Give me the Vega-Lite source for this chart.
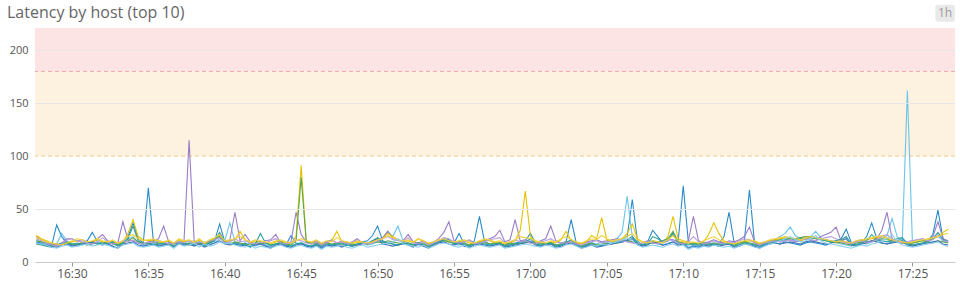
{
"$schema":"https://vega.github.io/schema/vega-lite/v6.json",
"autosize":"none","width":920,"height":234,
"padding":{"left":35,"top":28,"right":5,"bottom":27},
"background":"white",
"title":{"text":"Latency by host (top 10)","anchor":"start","frame":"group","dx":-28,"offset":8,"dy":24,"fontSize":16,"font":"Open Sans","fontWeight":400,"color":"#666"},
"config":{"view":{"stroke":null},"font":"Open Sans"},
"datasets":{
"bands":[{"level":"critical","from":180,"to":221},{"level":"warning","from":100,"to":180}],
"badge":[{"label":"1h"}],
"hosts":[
{"t":"16:27:40","a":19,"b":21,"c":24,"d":25,"e":20,"f":18,"g":17,"h":22,"i":23,"j":18},
{"t":"16:28:00","a":18,"b":19,"c":21,"d":22,"e":19,"f":17,"g":16,"h":20,"i":21,"j":17},
{"t":"16:28:20","a":17,"b":16,"c":19,"d":20,"e":18,"f":16,"g":15,"h":18,"i":19,"j":16},
{"t":"16:28:40","a":15,"b":14,"c":17,"d":18,"e":16,"f":15,"g":14,"h":16,"i":18,"j":14},
{"t":"16:29:00","a":35,"b":17,"c":16,"d":17,"e":15,"f":14,"g":16,"h":15,"i":17,"j":13},
{"t":"16:29:20","a":24,"b":27,"c":18,"d":16,"e":17,"f":16,"g":18,"h":17,"i":16,"j":15},
{"t":"16:29:40","a":18,"b":20,"c":22,"d":18,"e":18,"f":17,"g":19,"h":21,"i":18,"j":16},
{"t":"16:30:00","a":16,"b":17,"c":22,"d":19,"e":17,"f":15,"g":17,"h":22,"i":20,"j":14},
{"t":"16:30:20","a":17,"b":15,"c":20,"d":20,"e":16,"f":16,"g":18,"h":20,"i":22,"j":15},
{"t":"16:30:40","a":18,"b":16,"c":21,"d":18,"e":18,"f":17,"g":17,"h":19,"i":21,"j":16},
{"t":"16:31:00","a":20,"b":17,"c":19,"d":17,"e":19,"f":18,"g":16,"h":18,"i":19,"j":17},
{"t":"16:31:20","a":28,"b":18,"c":18,"d":19,"e":18,"f":19,"g":17,"h":17,"i":20,"j":15},
{"t":"16:31:40","a":19,"b":19,"c":22,"d":21,"e":17,"f":17,"g":18,"h":19,"i":22,"j":16},
{"t":"16:32:00","a":18,"b":17,"c":26,"d":19,"e":18,"f":16,"g":17,"h":23,"i":20,"j":17},
{"t":"16:32:20","a":17,"b":16,"c":20,"d":18,"e":19,"f":17,"g":18,"h":19,"i":19,"j":16},
{"t":"16:32:40","a":19,"b":18,"c":17,"d":20,"e":17,"f":15,"g":19,"h":17,"i":21,"j":14},
{"t":"16:33:00","a":16,"b":15,"c":18,"d":17,"e":16,"f":13,"g":15,"h":18,"i":18,"j":13},
{"t":"16:33:20","a":20,"b":19,"c":38,"d":19,"e":18,"f":17,"g":18,"h":20,"i":20,"j":16},
{"t":"16:33:40","a":24,"b":22,"c":21,"d":27,"e":20,"f":18,"g":22,"h":19,"i":24,"j":17},
{"t":"16:34:00","a":37,"b":24,"c":20,"d":40,"e":23,"f":19,"g":34,"h":21,"i":26,"j":18},
{"t":"16:34:20","a":22,"b":18,"c":18,"d":24,"e":19,"f":16,"g":20,"h":18,"i":22,"j":15},
{"t":"16:34:40","a":18,"b":16,"c":17,"d":21,"e":18,"f":15,"g":17,"h":17,"i":20,"j":14},
{"t":"16:35:00","a":70,"b":17,"c":19,"d":20,"e":17,"f":16,"g":18,"h":19,"i":21,"j":15},
{"t":"16:35:20","a":19,"b":18,"c":20,"d":21,"e":19,"f":17,"g":16,"h":18,"i":22,"j":16},
{"t":"16:35:40","a":17,"b":16,"c":22,"d":19,"e":18,"f":15,"g":17,"h":20,"i":20,"j":14},
{"t":"16:36:00","a":16,"b":17,"c":34,"d":18,"e":17,"f":16,"g":18,"h":19,"i":19,"j":15},
{"t":"16:36:20","a":18,"b":18,"c":19,"d":20,"e":16,"f":17,"g":17,"h":17,"i":21,"j":16},
{"t":"16:36:40","a":17,"b":15,"c":17,"d":17,"e":18,"f":14,"g":15,"h":18,"i":18,"j":13},
{"t":"16:37:00","a":19,"b":19,"c":18,"d":21,"e":19,"f":18,"g":17,"h":19,"i":22,"j":17},
{"t":"16:37:20","a":18,"b":17,"c":20,"d":19,"e":17,"f":16,"g":18,"h":18,"i":20,"j":15},
{"t":"16:37:40","a":17,"b":18,"c":115,"d":20,"e":18,"f":17,"g":16,"h":20,"i":21,"j":16},
{"t":"16:38:00","a":16,"b":20,"c":19,"d":18,"e":17,"f":15,"g":17,"h":17,"i":19,"j":18},
{"t":"16:38:20","a":19,"b":16,"c":17,"d":21,"e":18,"f":17,"g":19,"h":19,"i":22,"j":14},
{"t":"16:38:40","a":15,"b":19,"c":18,"d":17,"e":16,"f":14,"g":15,"h":18,"i":18,"j":17},
{"t":"16:39:00","a":18,"b":17,"c":19,"d":20,"e":19,"f":16,"g":18,"h":20,"i":21,"j":15},
{"t":"16:39:20","a":20,"b":18,"c":22,"d":22,"e":21,"f":18,"g":20,"h":21,"i":23,"j":16},
{"t":"16:39:40","a":36,"b":22,"c":26,"d":25,"e":24,"f":20,"g":28,"h":23,"i":26,"j":19},
{"t":"16:40:00","a":19,"b":20,"c":18,"d":19,"e":18,"f":17,"g":19,"h":18,"i":20,"j":17},
{"t":"16:40:20","a":18,"b":37,"c":21,"d":20,"e":17,"f":16,"g":17,"h":19,"i":21,"j":18},
{"t":"16:40:40","a":17,"b":19,"c":47,"d":21,"e":19,"f":17,"g":18,"h":22,"i":22,"j":16},
{"t":"16:41:00","a":16,"b":17,"c":20,"d":29,"e":18,"f":15,"g":17,"h":19,"i":24,"j":15},
{"t":"16:41:20","a":18,"b":16,"c":26,"d":21,"e":17,"f":16,"g":16,"h":20,"i":21,"j":14},
{"t":"16:41:40","a":15,"b":18,"c":19,"d":18,"e":16,"f":14,"g":15,"h":18,"i":19,"j":16},
{"t":"16:42:00","a":17,"b":15,"c":17,"d":20,"e":18,"f":16,"g":17,"h":17,"i":21,"j":13},
{"t":"16:42:20","a":19,"b":17,"c":18,"d":19,"e":17,"f":17,"g":27,"h":19,"i":20,"j":15},
{"t":"16:42:40","a":16,"b":16,"c":20,"d":18,"e":18,"f":15,"g":18,"h":18,"i":19,"j":14},
{"t":"16:43:00","a":14,"b":15,"c":21,"d":17,"e":16,"f":13,"g":16,"h":20,"i":18,"j":13},
{"t":"16:43:20","a":17,"b":17,"c":26,"d":19,"e":17,"f":16,"g":17,"h":22,"i":20,"j":15},
{"t":"16:43:40","a":18,"b":18,"c":18,"d":20,"e":19,"f":17,"g":18,"h":18,"i":21,"j":16},
{"t":"16:44:00","a":16,"b":16,"c":17,"d":18,"e":17,"f":15,"g":16,"h":17,"i":19,"j":14},
{"t":"16:44:20","a":25,"b":14,"c":19,"d":17,"e":16,"f":14,"g":15,"h":18,"i":18,"j":13},
{"t":"16:44:40","a":18,"b":17,"c":47,"d":24,"e":20,"f":16,"g":17,"h":21,"i":20,"j":15},
{"t":"16:45:00","a":17,"b":18,"c":26,"d":91,"e":80,"f":17,"g":18,"h":20,"i":22,"j":16},
{"t":"16:45:20","a":16,"b":16,"c":19,"d":20,"e":19,"f":15,"g":16,"h":18,"i":20,"j":14},
{"t":"16:45:40","a":15,"b":14,"c":18,"d":18,"e":17,"f":14,"g":15,"h":17,"i":19,"j":13},
{"t":"16:46:00","a":17,"b":16,"c":20,"d":19,"e":18,"f":16,"g":17,"h":19,"i":21,"j":15},
{"t":"16:46:20","a":14,"b":13,"c":17,"d":17,"e":16,"f":13,"g":15,"h":16,"i":18,"j":12},
{"t":"16:46:40","a":18,"b":17,"c":19,"d":18,"e":18,"f":16,"g":17,"h":18,"i":20,"j":15},
{"t":"16:47:00","a":16,"b":15,"c":21,"d":20,"e":17,"f":15,"g":16,"h":20,"i":19,"j":14},
{"t":"16:47:20","a":17,"b":16,"c":18,"d":29,"e":18,"f":16,"g":17,"h":18,"i":23,"j":15},
{"t":"16:47:40","a":15,"b":17,"c":20,"d":19,"e":16,"f":14,"g":18,"h":19,"i":20,"j":16},
{"t":"16:48:00","a":18,"b":16,"c":17,"d":18,"e":18,"f":16,"g":16,"h":17,"i":19,"j":14},
{"t":"16:48:20","a":16,"b":15,"c":19,"d":17,"e":17,"f":15,"g":15,"h":18,"i":18,"j":13},
{"t":"16:48:40","a":17,"b":17,"c":22,"d":19,"e":16,"f":16,"g":17,"h":21,"i":20,"j":15},
{"t":"16:49:00","a":19,"b":18,"c":18,"d":18,"e":18,"f":17,"g":18,"h":18,"i":19,"j":16},
{"t":"16:49:20","a":20,"b":16,"c":17,"d":17,"e":17,"f":18,"g":17,"h":17,"i":18,"j":14},
{"t":"16:49:40","a":25,"b":17,"c":19,"d":18,"e":18,"f":20,"g":20,"h":18,"i":19,"j":15},
{"t":"16:50:00","a":34,"b":19,"c":21,"d":20,"e":19,"f":22,"g":23,"h":20,"i":21,"j":16},
{"t":"16:50:20","a":20,"b":22,"c":23,"d":22,"e":18,"f":17,"g":19,"h":22,"i":22,"j":17},
{"t":"16:50:40","a":18,"b":29,"c":29,"d":27,"e":20,"f":16,"g":18,"h":24,"i":25,"j":18},
{"t":"16:51:00","a":17,"b":24,"c":22,"d":24,"e":19,"f":15,"g":17,"h":21,"i":23,"j":19},
{"t":"16:51:20","a":16,"b":34,"c":21,"d":21,"e":18,"f":16,"g":16,"h":20,"i":21,"j":22},
{"t":"16:51:40","a":18,"b":20,"c":20,"d":19,"e":17,"f":17,"g":18,"h":19,"i":20,"j":17},
{"t":"16:52:00","a":17,"b":18,"c":26,"d":20,"e":18,"f":16,"g":17,"h":23,"i":21,"j":16},
{"t":"16:52:20","a":15,"b":17,"c":19,"d":18,"e":16,"f":14,"g":16,"h":18,"i":19,"j":15},
{"t":"16:52:40","a":18,"b":16,"c":18,"d":22,"e":18,"f":17,"g":18,"h":17,"i":22,"j":14},
{"t":"16:53:00","a":16,"b":18,"c":20,"d":19,"e":17,"f":15,"g":16,"h":19,"i":20,"j":16},
{"t":"16:53:20","a":14,"b":15,"c":17,"d":17,"e":15,"f":13,"g":14,"h":16,"i":18,"j":13},
{"t":"16:53:40","a":17,"b":17,"c":19,"d":18,"e":18,"f":16,"g":17,"h":18,"i":19,"j":15},
{"t":"16:54:00","a":19,"b":19,"c":22,"d":20,"e":19,"f":18,"g":19,"h":20,"i":21,"j":17},
{"t":"16:54:20","a":22,"b":21,"c":28,"d":21,"e":20,"f":19,"g":21,"h":23,"i":22,"j":18},
{"t":"16:54:40","a":21,"b":20,"c":38,"d":19,"e":19,"f":17,"g":20,"h":22,"i":20,"j":17},
{"t":"16:55:00","a":18,"b":17,"c":20,"d":18,"e":18,"f":16,"g":17,"h":19,"i":19,"j":15},
{"t":"16:55:20","a":27,"b":16,"c":18,"d":19,"e":17,"f":18,"g":19,"h":18,"i":20,"j":14},
{"t":"16:55:40","a":17,"b":18,"c":19,"d":20,"e":18,"f":15,"g":16,"h":19,"i":21,"j":16},
{"t":"16:56:00","a":16,"b":15,"c":21,"d":18,"e":16,"f":14,"g":15,"h":20,"i":19,"j":13},
{"t":"16:56:20","a":20,"b":17,"c":18,"d":17,"e":17,"f":16,"g":17,"h":17,"i":18,"j":15},
{"t":"16:56:40","a":43,"b":19,"c":19,"d":19,"e":18,"f":17,"g":18,"h":18,"i":20,"j":16},
{"t":"16:57:00","a":19,"b":18,"c":20,"d":21,"e":19,"f":16,"g":17,"h":19,"i":22,"j":15},
{"t":"16:57:20","a":17,"b":16,"c":22,"d":20,"e":17,"f":15,"g":16,"h":21,"i":21,"j":14},
{"t":"16:57:40","a":16,"b":17,"c":24,"d":18,"e":18,"f":16,"g":17,"h":22,"i":19,"j":15},
{"t":"16:58:00","a":18,"b":18,"c":30,"d":19,"e":17,"f":17,"g":18,"h":23,"i":20,"j":16},
{"t":"16:58:20","a":15,"b":15,"c":19,"d":17,"e":16,"f":14,"g":15,"h":18,"i":18,"j":13},
{"t":"16:58:40","a":17,"b":16,"c":21,"d":18,"e":18,"f":15,"g":16,"h":19,"i":19,"j":14},
{"t":"16:59:00","a":18,"b":17,"c":40,"d":20,"e":17,"f":16,"g":17,"h":21,"i":21,"j":15},
{"t":"16:59:20","a":19,"b":18,"c":20,"d":30,"e":18,"f":17,"g":18,"h":19,"i":24,"j":16},
{"t":"16:59:40","a":20,"b":19,"c":21,"d":67,"e":19,"f":18,"g":19,"h":20,"i":23,"j":17},
{"t":"17:00:00","a":27,"b":20,"c":19,"d":24,"e":18,"f":19,"g":22,"h":18,"i":22,"j":16},
{"t":"17:00:20","a":18,"b":17,"c":18,"d":19,"e":17,"f":16,"g":17,"h":17,"i":20,"j":15},
{"t":"17:00:40","a":16,"b":16,"c":20,"d":18,"e":18,"f":15,"g":16,"h":19,"i":19,"j":14},
{"t":"17:01:00","a":17,"b":18,"c":22,"d":17,"e":17,"f":16,"g":17,"h":20,"i":18,"j":16},
{"t":"17:01:20","a":18,"b":17,"c":34,"d":19,"e":18,"f":17,"g":18,"h":22,"i":20,"j":15},
{"t":"17:01:40","a":16,"b":15,"c":20,"d":18,"e":16,"f":14,"g":15,"h":19,"i":19,"j":13},
{"t":"17:02:00","a":17,"b":16,"c":18,"d":21,"e":17,"f":15,"g":16,"h":18,"i":22,"j":14},
{"t":"17:02:20","a":19,"b":18,"c":19,"d":29,"e":19,"f":17,"g":18,"h":18,"i":24,"j":16},
{"t":"17:02:40","a":40,"b":19,"c":20,"d":20,"e":18,"f":18,"g":21,"h":19,"i":21,"j":17},
{"t":"17:03:00","a":18,"b":17,"c":18,"d":18,"e":17,"f":16,"g":17,"h":17,"i":19,"j":15},
{"t":"17:03:20","a":14,"b":15,"c":17,"d":17,"e":15,"f":13,"g":14,"h":16,"i":18,"j":13},
{"t":"17:03:40","a":16,"b":16,"c":19,"d":19,"e":17,"f":15,"g":16,"h":18,"i":20,"j":14},
{"t":"17:04:00","a":17,"b":18,"c":20,"d":25,"e":18,"f":16,"g":17,"h":19,"i":22,"j":16},
{"t":"17:04:20","a":15,"b":17,"c":21,"d":22,"e":16,"f":14,"g":15,"h":20,"i":21,"j":15},
{"t":"17:04:40","a":16,"b":19,"c":19,"d":42,"e":17,"f":15,"g":16,"h":18,"i":25,"j":17},
{"t":"17:05:00","a":17,"b":18,"c":20,"d":21,"e":18,"f":16,"g":17,"h":19,"i":22,"j":16},
{"t":"17:05:20","a":18,"b":20,"c":21,"d":19,"e":17,"f":17,"g":18,"h":20,"i":20,"j":18},
{"t":"17:05:40","a":19,"b":22,"c":22,"d":20,"e":18,"f":18,"g":19,"h":21,"i":21,"j":19},
{"t":"17:06:00","a":22,"b":28,"c":21,"d":22,"e":19,"f":19,"g":20,"h":20,"i":22,"j":21},
{"t":"17:06:20","a":24,"b":62,"c":20,"d":27,"e":20,"f":20,"g":21,"h":19,"i":24,"j":23},
{"t":"17:06:40","a":59,"b":24,"c":19,"d":36,"e":19,"f":22,"g":24,"h":18,"i":27,"j":20},
{"t":"17:07:00","a":20,"b":19,"c":17,"d":22,"e":18,"f":17,"g":18,"h":17,"i":21,"j":16},
{"t":"17:07:20","a":16,"b":16,"c":18,"d":19,"e":16,"f":15,"g":16,"h":18,"i":19,"j":14},
{"t":"17:07:40","a":19,"b":17,"c":20,"d":18,"e":17,"f":16,"g":17,"h":19,"i":18,"j":15},
{"t":"17:08:00","a":30,"b":18,"c":19,"d":20,"e":18,"f":20,"g":24,"h":18,"i":20,"j":16},
{"t":"17:08:20","a":24,"b":17,"c":18,"d":19,"e":19,"f":18,"g":22,"h":17,"i":19,"j":15},
{"t":"17:08:40","a":18,"b":16,"c":20,"d":18,"e":20,"f":16,"g":19,"h":19,"i":18,"j":14},
{"t":"17:09:00","a":20,"b":18,"c":22,"d":24,"e":22,"f":17,"g":21,"h":21,"i":21,"j":16},
{"t":"17:09:20","a":28,"b":19,"c":21,"d":43,"e":29,"f":19,"g":26,"h":20,"i":25,"j":17},
{"t":"17:09:40","a":19,"b":17,"c":19,"d":22,"e":19,"f":16,"g":18,"h":18,"i":20,"j":15},
{"t":"17:10:00","a":72,"b":18,"c":18,"d":20,"e":18,"f":17,"g":17,"h":17,"i":19,"j":16},
{"t":"17:10:20","a":19,"b":14,"c":20,"d":19,"e":17,"f":13,"g":16,"h":19,"i":18,"j":12},
{"t":"17:10:40","a":16,"b":16,"c":43,"d":18,"e":18,"f":15,"g":17,"h":24,"i":19,"j":14},
{"t":"17:11:00","a":15,"b":15,"c":20,"d":17,"e":17,"f":14,"g":16,"h":19,"i":18,"j":13},
{"t":"17:11:20","a":17,"b":17,"c":18,"d":19,"e":18,"f":16,"g":17,"h":17,"i":20,"j":15},
{"t":"17:11:40","a":18,"b":16,"c":19,"d":26,"e":17,"f":15,"g":16,"h":18,"i":22,"j":14},
{"t":"17:12:00","a":16,"b":18,"c":21,"d":37,"e":18,"f":16,"g":17,"h":20,"i":24,"j":16},
{"t":"17:12:20","a":17,"b":17,"c":19,"d":27,"e":17,"f":15,"g":16,"h":18,"i":21,"j":15},
{"t":"17:12:40","a":24,"b":16,"c":18,"d":20,"e":18,"f":16,"g":17,"h":17,"i":19,"j":14},
{"t":"17:13:00","a":47,"b":17,"c":20,"d":18,"e":17,"f":17,"g":18,"h":19,"i":18,"j":15},
{"t":"17:13:20","a":18,"b":15,"c":19,"d":17,"e":16,"f":14,"g":15,"h":18,"i":17,"j":13},
{"t":"17:13:40","a":16,"b":17,"c":21,"d":18,"e":18,"f":15,"g":16,"h":20,"i":19,"j":15},
{"t":"17:14:00","a":20,"b":19,"c":24,"d":19,"e":19,"f":17,"g":18,"h":22,"i":20,"j":17},
{"t":"17:14:20","a":68,"b":18,"c":33,"d":20,"e":18,"f":16,"g":17,"h":21,"i":21,"j":16},
{"t":"17:14:40","a":18,"b":16,"c":19,"d":19,"e":17,"f":15,"g":16,"h":18,"i":20,"j":14},
{"t":"17:15:00","a":14,"b":15,"c":17,"d":17,"e":16,"f":13,"g":15,"h":16,"i":18,"j":13},
{"t":"17:15:20","a":17,"b":17,"c":19,"d":18,"e":18,"f":16,"g":17,"h":18,"i":19,"j":15},
{"t":"17:15:40","a":19,"b":19,"c":20,"d":20,"e":19,"f":17,"g":18,"h":19,"i":21,"j":17},
{"t":"17:16:00","a":18,"b":21,"c":21,"d":21,"e":20,"f":18,"g":19,"h":20,"i":22,"j":18},
{"t":"17:16:20","a":17,"b":24,"c":19,"d":22,"e":21,"f":17,"g":20,"h":19,"i":23,"j":20},
{"t":"17:16:40","a":19,"b":27,"c":20,"d":23,"e":22,"f":18,"g":21,"h":20,"i":24,"j":22},
{"t":"17:17:00","a":18,"b":33,"c":21,"d":22,"e":23,"f":19,"g":22,"h":21,"i":23,"j":24},
{"t":"17:17:20","a":17,"b":25,"c":19,"d":21,"e":22,"f":18,"g":21,"h":20,"i":22,"j":21},
{"t":"17:17:40","a":16,"b":22,"c":20,"d":20,"e":23,"f":17,"g":22,"h":21,"i":21,"j":19},
{"t":"17:18:00","a":18,"b":21,"c":22,"d":22,"e":24,"f":19,"g":23,"h":22,"i":23,"j":20},
{"t":"17:18:20","a":19,"b":24,"c":21,"d":23,"e":24,"f":20,"g":23,"h":21,"i":24,"j":22},
{"t":"17:18:40","a":18,"b":29,"c":20,"d":22,"e":23,"f":19,"g":22,"h":20,"i":23,"j":25},
{"t":"17:19:00","a":17,"b":23,"c":24,"d":21,"e":22,"f":18,"g":21,"h":22,"i":22,"j":20},
{"t":"17:19:20","a":16,"b":20,"c":26,"d":20,"e":21,"f":17,"g":20,"h":23,"i":21,"j":18},
{"t":"17:19:40","a":18,"b":19,"c":28,"d":19,"e":20,"f":18,"g":19,"h":24,"i":20,"j":17},
{"t":"17:20:00","a":20,"b":18,"c":33,"d":18,"e":19,"f":19,"g":20,"h":22,"i":19,"j":16},
{"t":"17:20:20","a":22,"b":17,"c":20,"d":19,"e":18,"f":20,"g":21,"h":19,"i":20,"j":15},
{"t":"17:20:40","a":31,"b":16,"c":19,"d":18,"e":17,"f":22,"g":24,"h":18,"i":19,"j":14},
{"t":"17:21:00","a":18,"b":15,"c":18,"d":17,"e":16,"f":16,"g":17,"h":17,"i":18,"j":13},
{"t":"17:21:20","a":16,"b":17,"c":20,"d":19,"e":18,"f":15,"g":16,"h":19,"i":20,"j":15},
{"t":"17:21:40","a":18,"b":18,"c":21,"d":20,"e":19,"f":17,"g":18,"h":20,"i":21,"j":16},
{"t":"17:22:00","a":24,"b":17,"c":19,"d":21,"e":18,"f":18,"g":20,"h":18,"i":22,"j":15},
{"t":"17:22:20","a":37,"b":19,"c":20,"d":22,"e":20,"f":20,"g":26,"h":19,"i":23,"j":17},
{"t":"17:22:40","a":22,"b":20,"c":22,"d":23,"e":21,"f":19,"g":21,"h":21,"i":24,"j":18},
{"t":"17:23:00","a":18,"b":22,"c":30,"d":24,"e":22,"f":18,"g":20,"h":24,"i":25,"j":20},
{"t":"17:23:20","a":17,"b":25,"c":47,"d":22,"e":21,"f":17,"g":19,"h":26,"i":23,"j":22},
{"t":"17:23:40","a":19,"b":41,"c":22,"d":20,"e":20,"f":18,"g":20,"h":21,"i":21,"j":26},
{"t":"17:24:00","a":20,"b":24,"c":19,"d":19,"e":19,"f":19,"g":22,"h":19,"i":20,"j":19},
{"t":"17:24:20","a":22,"b":20,"c":18,"d":18,"e":18,"f":20,"g":23,"h":18,"i":19,"j":16},
{"t":"17:24:40","a":18,"b":162,"c":19,"d":17,"e":17,"f":16,"g":17,"h":19,"i":18,"j":15},
{"t":"17:25:00","a":16,"b":17,"c":20,"d":18,"e":18,"f":15,"g":16,"h":20,"i":19,"j":14},
{"t":"17:25:20","a":17,"b":16,"c":21,"d":19,"e":19,"f":16,"g":17,"h":21,"i":20,"j":15},
{"t":"17:25:40","a":18,"b":18,"c":22,"d":20,"e":20,"f":17,"g":18,"h":22,"i":21,"j":16},
{"t":"17:26:00","a":20,"b":20,"c":20,"d":21,"e":19,"f":18,"g":19,"h":20,"i":22,"j":17},
{"t":"17:26:20","a":26,"b":22,"c":24,"d":22,"e":18,"f":19,"g":22,"h":21,"i":23,"j":18},
{"t":"17:26:40","a":49,"b":24,"c":38,"d":24,"e":20,"f":20,"g":28,"h":26,"i":24,"j":19},
{"t":"17:27:00","a":22,"b":20,"c":22,"d":28,"e":19,"f":17,"g":21,"h":20,"i":26,"j":16},
{"t":"17:27:20","a":18,"b":19,"c":20,"d":31,"e":18,"f":16,"g":19,"h":19,"i":27,"j":15}
]},
"layer":[
{"data":{"name":"bands"},"mark":{"type":"rect"},
 "encoding":{"y":{"field":"from","type":"quantitative","scale":{"domain":[0,221],"nice":false}},"y2":{"field":"to"},
  "fill":{"field":"level","type":"nominal","scale":{"domain":["critical","warning"],"range":["#fde4e4","#fdf1e0"]},"legend":null}}},
{"data":{"name":"bands"},"mark":{"type":"rule","strokeDash":[4,3],"strokeWidth":1},
 "encoding":{"y":{"field":"from","type":"quantitative"},
  "stroke":{"field":"level","type":"nominal","scale":{"domain":["critical","warning"],"range":["#f0a4a4","#f2c888"]},"legend":null}}},
{"data":{"name":"hosts","format":{"parse":{"t":"date:'%H:%M:%S'"}}},
 "transform":[{"fold":["a","b","c","d","e","f","g","h","i","j"],"as":["host","latency"]}],
 "mark":{"type":"line","strokeWidth":1.1,"interpolate":"linear"},
 "encoding":{
  "x":{"field":"t","type":"temporal","scale":{"domain":[{"year":1900,"month":1,"date":1,"hours":16,"minutes":27,"seconds":35},{"year":1900,"month":1,"date":1,"hours":17,"minutes":27,"seconds":47}]},
   "axis":{"title":null,"grid":false,"domainColor":"#c8c8c8","labelColor":"#555","labelFontSize":12,"labelPadding":2,"labelOverlap":false,"labelFlush":false,
    "values":[{"year":1900,"month":1,"date":1,"hours":16,"minutes":30},{"year":1900,"month":1,"date":1,"hours":16,"minutes":32,"seconds":30},{"year":1900,"month":1,"date":1,"hours":16,"minutes":35},{"year":1900,"month":1,"date":1,"hours":16,"minutes":37,"seconds":30},{"year":1900,"month":1,"date":1,"hours":16,"minutes":40},{"year":1900,"month":1,"date":1,"hours":16,"minutes":42,"seconds":30},{"year":1900,"month":1,"date":1,"hours":16,"minutes":45},{"year":1900,"month":1,"date":1,"hours":16,"minutes":47,"seconds":30},{"year":1900,"month":1,"date":1,"hours":16,"minutes":50},{"year":1900,"month":1,"date":1,"hours":16,"minutes":52,"seconds":30},{"year":1900,"month":1,"date":1,"hours":16,"minutes":55},{"year":1900,"month":1,"date":1,"hours":16,"minutes":57,"seconds":30},{"year":1900,"month":1,"date":1,"hours":17,"minutes":0},{"year":1900,"month":1,"date":1,"hours":17,"minutes":2,"seconds":30},{"year":1900,"month":1,"date":1,"hours":17,"minutes":5},{"year":1900,"month":1,"date":1,"hours":17,"minutes":7,"seconds":30},{"year":1900,"month":1,"date":1,"hours":17,"minutes":10},{"year":1900,"month":1,"date":1,"hours":17,"minutes":12,"seconds":30},{"year":1900,"month":1,"date":1,"hours":17,"minutes":15},{"year":1900,"month":1,"date":1,"hours":17,"minutes":17,"seconds":30},{"year":1900,"month":1,"date":1,"hours":17,"minutes":20},{"year":1900,"month":1,"date":1,"hours":17,"minutes":22,"seconds":30},{"year":1900,"month":1,"date":1,"hours":17,"minutes":25},{"year":1900,"month":1,"date":1,"hours":17,"minutes":27,"seconds":30}],
    "labelExpr":"seconds(datum.value) == 0 ? timeFormat(datum.value, '%H:%M') : ''",
    "tickColor":{"condition":{"test":"seconds(datum.value) == 0","value":"#999"},"value":"#d0d0d0"},
    "tickSize":{"condition":{"test":"seconds(datum.value) == 0","value":4},"value":2}}},
  "y":{"field":"latency","type":"quantitative","scale":{"domain":[0,221],"nice":false},
   "axis":{"title":null,"values":[0,50,100,150,200],"domain":false,"ticks":false,"gridColor":"#e6e6e6","gridOpacity":{"condition":{"test":"datum.value == 100 || datum.value == 0","value":0},"value":1},"labelColor":"#555","labelFontSize":11,"labelPadding":7,"zindex":1}},
  "color":{"field":"host","type":"nominal","scale":{"domain":["a","b","c","d","e","f","g","h","i","j"],"range":["#2a8bc8","#6cc4ea","#9a7cc6","#e6c200","#5ba64b","#3b72b6","#2e9e9a","#b69fdb","#f0d23c","#8dcfee"]},"legend":null}}},
{"data":{"name":"badge"},"mark":{"type":"rect","fill":"#e9e9e9","cornerRadius":2},
 "encoding":{"x":{"datum":{"year":1900,"month":1,"date":1,"hours":17,"minutes":26,"seconds":30},"type":"temporal"},"x2":{"datum":{"year":1900,"month":1,"date":1,"hours":17,"minutes":27,"seconds":46}},
  "y":{"datum":227,"type":"quantitative"},"y2":{"datum":243}}},
{"data":{"name":"badge"},"mark":{"type":"text","color":"#9a9a9a","fontSize":12,"align":"center","baseline":"middle"},
 "encoding":{"text":{"field":"label"},"x":{"datum":{"year":1900,"month":1,"date":1,"hours":17,"minutes":27,"seconds":8},"type":"temporal"},
  "y":{"datum":235,"type":"quantitative"}}}
]
}
